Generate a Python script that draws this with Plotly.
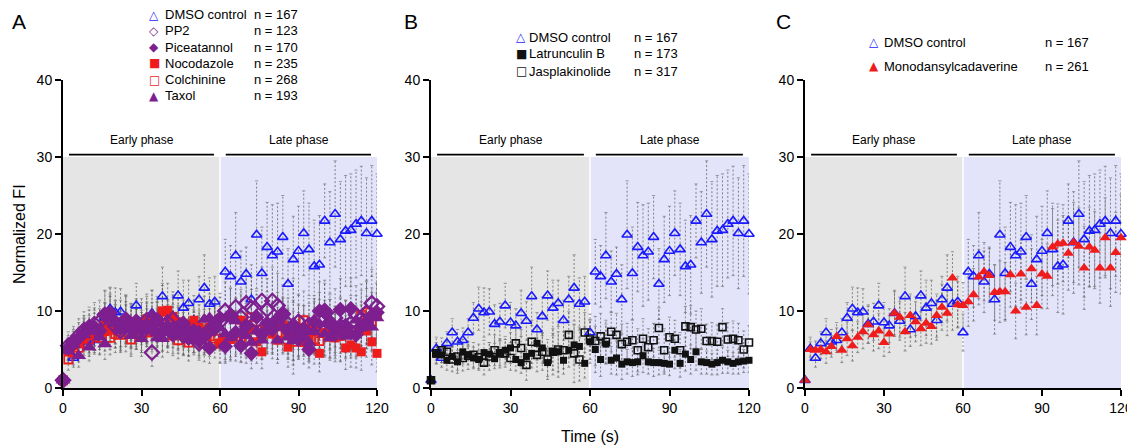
import plotly.graph_objects as go

# sampling grid (s)
time_s = list(range(0, 121, 2))

# DMSO control, shown in all three panels
dmso = [1.0, 5.1, 3.9, 5.8, 7.2, 6.0, 6.2, 7.2, 9.1, 10.3,
        9.8, 9.9, 8.3, 8.6, 10.7, 8.5, 8.1, 9.7, 8.7, 11.9,
        7.6, 9.3, 12.0, 10.4, 11.0, 8.8, 11.5, 13.0, 10.9, 11.2,
        7.2, 15.1, 14.5, 17.2, 13.8, 14.8, 11.5, 19.9, 14.9, 18.3,
        17.2, 17.7, 19.6, 13.5, 16.7, 17.8, 20.1, 18.0, 15.8, 16.0,
        21.7, 18.9, 22.6, 19.3, 20.4, 20.5, 21.3, 21.7, 20.1, 21.7,
        20.0]
dmso_err = [0, 1.5, 1.2, 1.5, 1.8, 1.6, 1.6, 1.8, 2.0, 2.8,
            3.2, 3.0, 2.5, 2.4, 2.9, 2.6, 2.2, 3.0, 2.5, 3.8,
            2.2, 2.5, 3.2, 3.6, 3.0, 2.6, 3.0, 4.3, 3.4, 3.3,
            2.4, 4.2, 4.0, 5.6, 4.0, 3.5, 4.5, 7.0, 6.0, 5.8,
            6.6, 6.3, 5.4, 4.6, 5.6, 5.8, 5.5, 6.0, 6.0, 6.4,
            4.8, 6.6, 6.9, 7.5, 7.2, 7.3, 7.0, 7.1, 7.2, 7.2,
            7.8]

# panel A
colch = [1.0, 3.7, 4.6, 5.2, 5.8, 6.3, 6.8, 6.5, 7.4, 6.5,
         7.0, 6.9, 7.2, 6.3, 7.6, 7.0, 7.2, 7.3, 7.5, 9.9,
         8.3, 6.8, 6.2, 7.1, 5.9, 7.4, 6.8, 5.8, 6.7, 6.4,
         5.8, 6.2, 6.5, 6.7, 6.4, 6.2, 9.2, 7.6, 7.0, 8.0,
         8.2, 7.1, 8.0, 6.9, 6.0, 7.3, 8.8, 7.4, 6.3, 6.1,
         7.8, 7.7, 7.2, 7.0, 7.6, 7.5, 7.3, 9.5, 9.8, 8.6,
         9.6]
colch_err = [0, 1.4, 1.6, 1.8, 2.0, 2.2, 2.4, 2.2, 2.6, 2.2,
             2.4, 2.3, 2.5, 2.2, 2.6, 2.4, 2.5, 2.6, 2.8, 3.4,
             3.0, 2.6, 2.4, 2.7, 2.4, 2.8, 2.6, 2.4, 2.6, 2.5,
             2.6, 2.8, 3.0, 3.2, 3.0, 3.0, 3.6, 3.4, 3.2, 3.6,
             3.8, 3.4, 3.6, 3.2, 3.0, 3.4, 3.8, 3.6, 3.2, 3.0,
             3.6, 3.8, 3.4, 3.6, 3.8, 3.6, 3.4, 4.0, 4.2, 3.8,
             4.0]
noco = [1.0, 4.8, 5.5, 5.9, 6.4, 7.0, 7.5, 7.8, 8.2, 7.6,
        8.0, 8.4, 8.9, 8.1, 7.7, 8.6, 9.0, 8.2, 8.5, 10.0,
        10.1, 9.3, 8.6, 8.0, 8.3, 8.8, 7.9, 7.4, 7.9, 8.2,
        5.7, 6.5, 6.3, 7.1, 8.8, 6.9, 7.6, 6.0, 4.7, 8.1,
        7.0, 6.2, 8.2, 5.3, 6.8, 7.5, 5.9, 6.4, 8.0, 4.5,
        7.2, 6.6, 6.5, 6.7, 5.2, 5.6, 5.2, 4.7, 7.4, 6.0,
        4.5]
noco_err = [0, 1.6, 1.8, 2.0, 2.2, 2.4, 2.6, 2.5, 2.8, 2.6,
            2.8, 3.0, 3.2, 2.8, 2.7, 3.0, 3.2, 2.9, 3.0, 3.6,
            3.5, 3.2, 3.0, 2.8, 3.0, 3.2, 2.9, 2.8, 3.0, 3.1,
            2.4, 2.8, 2.6, 3.0, 3.4, 3.0, 3.2, 2.8, 2.2, 3.4,
            3.2, 3.0, 3.6, 2.6, 3.2, 3.4, 2.8, 3.0, 3.6, 2.4,
            3.2, 3.0, 3.1, 3.2, 2.8, 2.9, 2.6, 2.4, 3.4, 3.0,
            2.4]
pp2 = [1.0, 5.5, 6.0, 6.8, 7.5, 7.9, 8.3, 8.6, 9.5, 8.9,
       8.0, 7.4, 8.3, 7.8, 8.4, 7.2, 8.8, 4.6, 8.2, 7.6,
       8.5, 8.9, 7.7, 6.8, 6.6, 7.3, 5.8, 6.9, 7.5, 7.8,
       8.6, 10.0, 9.4, 10.5, 9.2, 11.0, 10.4, 8.7, 11.3, 10.2,
       11.3, 10.7, 9.6, 8.3, 8.0, 8.6, 7.5, 8.2, 7.9, 8.8,
       10.0, 8.5, 9.1, 7.7, 8.0, 8.4, 9.5, 9.0, 9.8, 11.0,
       10.6]
pp2_err = [0, 1.8, 2.0, 2.2, 2.4, 2.6, 2.8, 2.8, 3.2, 3.0,
           2.8, 2.6, 2.9, 2.7, 3.0, 2.6, 3.1, 1.8, 2.9, 2.8,
           3.0, 3.2, 2.8, 2.5, 2.4, 2.7, 2.2, 2.6, 2.8, 2.9,
           3.2, 3.8, 3.6, 4.0, 3.6, 4.2, 4.0, 3.4, 4.4, 4.0,
           4.4, 4.2, 3.8, 3.4, 6.2, 3.6, 3.2, 3.4, 3.3, 3.6,
           4.0, 3.6, 3.8, 3.2, 3.4, 3.6, 3.8, 3.7, 4.0, 4.4,
           4.2]
pice = [1.0, 5.2, 5.8, 6.5, 7.2, 7.7, 7.9, 7.4, 9.6, 9.8,
        8.6, 7.8, 9.0, 8.1, 8.7, 7.5, 8.2, 7.6, 8.9, 7.3,
        8.0, 6.9, 7.9, 8.4, 6.5, 7.2, 6.1, 6.7, 5.2, 7.9,
        9.1, 5.4, 9.5, 7.2, 5.5, 8.0, 4.5, 9.2, 7.0, 8.4,
        7.6, 9.0, 9.6, 7.4, 8.2, 6.3, 7.7, 5.0, 8.6, 10.0,
        9.8, 8.3, 7.0, 10.2, 8.1, 10.3, 6.9, 8.0, 8.5, 9.4,
        9.8]
pice_err = [0, 1.6, 1.8, 2.0, 2.2, 2.4, 2.5, 2.4, 3.0, 3.2,
            2.8, 2.6, 3.0, 2.8, 2.9, 2.6, 2.8, 2.6, 3.0, 2.5,
            2.8, 2.4, 2.8, 3.0, 2.4, 2.6, 2.2, 2.4, 2.0, 2.8,
            3.2, 2.2, 3.4, 2.8, 2.2, 3.0, 2.0, 3.4, 2.8, 3.2,
            3.0, 3.4, 3.6, 3.0, 3.2, 2.6, 3.0, 2.4, 3.4, 3.8,
            3.8, 3.2, 2.8, 4.0, 3.2, 4.0, 2.8, 3.2, 3.4, 3.6,
            3.8]
taxol = [1.0, 4.8, 5.6, 4.2, 6.9, 5.3, 7.3, 6.6, 5.7, 9.2,
         8.5, 7.4, 8.9, 6.8, 7.8, 6.4, 8.3, 9.5, 6.5, 6.4,
         7.2, 8.0, 7.1, 6.7, 7.6, 6.8, 7.4, 8.9, 9.1, 8.6,
         7.8, 7.0, 6.5, 8.7, 7.1, 6.8, 5.9, 7.4, 6.2, 7.3,
         8.1, 6.2, 7.9, 6.6, 6.1, 7.0, 6.8, 5.9, 7.3, 8.3,
         7.0, 6.5, 7.6, 8.4, 6.7, 7.0, 8.8, 7.8, 8.2, 7.9,
         9.1]
taxol_err = [0, 1.6, 1.8, 1.5, 2.2, 1.8, 2.4, 2.2, 2.0, 3.0,
             2.8, 2.5, 3.0, 2.4, 2.7, 2.3, 2.9, 3.2, 2.4, 2.4,
             2.6, 2.8, 2.6, 2.5, 2.7, 2.5, 2.6, 3.0, 3.1, 3.0,
             2.8, 2.6, 2.5, 3.0, 2.7, 2.6, 2.4, 2.8, 2.5, 2.8,
             3.0, 2.5, 3.0, 2.7, 2.5, 2.8, 2.7, 2.4, 2.9, 3.2,
             2.8, 2.6, 3.0, 3.2, 2.7, 2.8, 3.2, 3.0, 3.1, 3.0,
             3.3]

# panel B
latb = [1.0, 4.4, 4.3, 3.6, 4.1, 3.4, 4.7, 4.3, 3.9, 3.7,
        4.6, 4.4, 3.8, 4.5, 4.9, 5.2, 3.7, 3.3, 4.1, 4.5,
        5.8, 5.2, 3.3, 4.7, 4.7, 3.6, 4.9, 5.6, 5.4, 3.2,
        6.0, 5.0, 3.7, 5.7, 3.6, 3.9, 3.1, 3.4, 3.3, 3.4,
        4.2, 3.4, 3.3, 3.3, 3.2, 3.1, 4.9, 3.2, 4.4, 3.7,
        4.7, 3.4, 3.3, 3.1, 3.3, 3.6, 3.4, 3.2, 3.4, 3.5,
        3.6]
latb_err = [0, 1.2, 1.0, 1.3, 1.4, 1.5, 1.6, 1.3, 1.4, 1.2,
            1.6, 1.5, 1.3, 1.6, 1.8, 2.0, 1.5, 1.4, 1.6, 1.9,
            2.2, 2.0, 1.8, 2.4, 2.6, 1.8, 2.2, 2.6, 2.5, 1.9,
            2.8, 3.0, 2.2, 2.6, 1.8, 2.2, 2.0, 1.6, 1.8, 1.7,
            2.2, 1.6, 1.8, 1.6, 1.4, 1.5, 2.4, 1.8, 2.2, 1.9,
            2.4, 1.6, 1.5, 1.4, 1.6, 1.7, 1.5, 1.4, 1.6, 1.5,
            1.6]
jasp = [1.0, 4.5, 4.9, 4.7, 3.7, 4.1, 3.9, 4.2, 4.3, 4.0,
        3.3, 4.1, 4.9, 4.5, 4.5, 3.9, 5.8, 5.2, 3.0, 6.0,
        4.3, 4.7, 3.7, 4.7, 5.0, 4.9, 6.9, 4.5, 3.7, 7.2,
        6.3, 6.1, 6.7, 6.0, 7.3, 6.9, 5.7, 6.0, 6.2, 4.9,
        6.4, 5.3, 6.2, 7.8, 4.9, 6.6, 6.4, 4.9, 8.0, 7.9,
        7.6, 7.7, 6.1, 6.1, 6.0, 7.9, 6.3, 6.4, 6.2, 5.0,
        5.9]
jasp_err = [0, 1.4, 1.6, 1.5, 1.6, 1.8, 1.7, 1.8, 1.6, 1.7,
            1.6, 1.8, 2.0, 1.9, 1.8, 1.6, 2.2, 2.4, 2.0, 2.8,
            2.2, 2.4, 2.6, 3.0, 3.6, 2.4, 3.0, 3.8, 2.8, 2.6,
            2.6, 3.2, 3.0, 2.8, 2.6, 2.8, 2.6, 2.4, 2.6, 2.8,
            2.6, 2.4, 2.2, 2.6, 2.8, 2.6, 2.4, 2.3, 2.6, 2.8,
            2.4, 2.6, 2.2, 2.4, 2.2, 2.4, 2.2, 2.3, 2.2, 2.4,
            2.2]

# panel C
mdc = [1.0, 5.0, 4.9, 5.0, 4.7, 5.4, 6.7, 4.9, 6.4, 5.5,
       6.6, 7.3, 8.2, 6.9, 7.4, 5.9, 7.0, 9.7, 9.2, 7.3,
       9.4, 8.6, 7.7, 8.4, 8.0, 9.4, 10.5, 9.7, 14.3, 10.8,
       10.7, 11.2, 12.1, 14.4, 15.1, 14.6, 12.4, 12.5, 12.5, 14.7,
       10.0, 14.8, 10.5, 15.5, 10.7, 14.8, 14.5, 18.3, 18.7, 18.8,
       17.5, 18.9, 18.4, 15.6, 18.3, 17.9, 15.6, 19.5, 15.6, 17.6,
       19.5]
mdc_err = [0, 1.0, 1.2, 1.2, 1.5, 1.4, 1.8, 1.6, 2.2, 2.0,
           2.0, 2.2, 2.4, 2.1, 2.3, 1.8, 2.4, 2.8, 2.6, 2.5,
           2.8, 2.6, 2.2, 2.6, 2.3, 2.8, 3.0, 2.9, 3.4, 3.0,
           3.0, 3.2, 3.4, 3.6, 3.8, 3.5, 3.6, 4.0, 3.8, 4.2,
           3.6, 4.4, 3.6, 4.4, 3.8, 4.5, 4.2, 5.0, 5.2, 5.0,
           4.8, 5.2, 5.0, 5.4, 5.2, 5.0, 4.6, 5.2, 5.0, 5.2,
           5.6]

BLUE = "#1a1aff"
RED = "#ee1c1c"
PURPLE = "#7d1f8e"
BLACK = "#111111"

# the page body adds an 8px margin, so the figure is a bit smaller than the window
W, H = 1135, 448
OFF = 8
FW, FH = W - OFF, H - OFF
FONT = "Liberation Sans, Arial, sans-serif"


def px(x):
    return (x - OFF) / FW


def py(y):
    return 1 - (y - OFF) / FH


def err_bars(t, y, e):
    xs, ys = [], []
    for ti, yi, ei in zip(t, y, e):
        if ei <= 0:
            continue
        xs += [ti, ti, None]
        ys += [yi - ei, yi + ei, None]
    return xs, ys


def err_caps(t, y, e):
    xs, ys = [], []
    for ti, yi, ei in zip(t, y, e):
        if ei <= 0:
            continue
        for yy in (yi - ei, yi + ei):
            xs += [ti - 0.6, ti + 0.6, None]
            ys += [yy, yy, None]
    return xs, ys


fig = go.Figure()

panels = [
    ("x", "y", [
        (dmso, dmso_err, "triangle-up-open", 9, BLUE, 1.6),
        (colch, colch_err, "square-open", 8, RED, 1.8),
        (noco, noco_err, "square", 9, RED, 0),
        (pp2, pp2_err, "diamond-open", 11, PURPLE, 2.2),
        (pice, pice_err, "diamond", 12, PURPLE, 0),
        (taxol, taxol_err, "triangle-up", 13, PURPLE, 0),
    ]),
    ("x2", "y2", [
        (dmso, dmso_err, "triangle-up-open", 9, BLUE, 1.6),
        (jasp, jasp_err, "square-open", 7, BLACK, 1.6),
        (latb, latb_err, "square", 7, BLACK, 0),
    ]),
    ("x3", "y3", [
        (dmso, dmso_err, "triangle-up-open", 9, BLUE, 1.6),
        (mdc, mdc_err, "triangle-up", 10, RED, 0),
    ]),
]

for xa, ya, series in panels:
    # error bars first so markers sit on top
    for vals, errs, sym, size, col, lw in series:
        ex, ey = err_bars(time_s, vals, errs)
        fig.add_trace(go.Scatter(x=ex, y=ey, mode="lines", xaxis=xa, yaxis=ya,
                                 line=dict(color="#555555", width=0.7, dash="2px,2px"),
                                 hoverinfo="skip", showlegend=False))
        cx, cy = err_caps(time_s, vals, errs)
        fig.add_trace(go.Scatter(x=cx, y=cy, mode="lines", xaxis=xa, yaxis=ya,
                                 line=dict(color="#777777", width=0.7),
                                 hoverinfo="skip", showlegend=False))
    for vals, errs, sym, size, col, lw in series:
        fig.add_trace(go.Scatter(x=time_s, y=vals, mode="markers", xaxis=xa, yaxis=ya,
                                 marker=dict(symbol=sym, size=size, color=col,
                                             line=dict(color=col, width=lw)),
                                 cliponaxis=False, showlegend=False))

# phase shading and bars
shapes = []
annotations = []
for xa, ya in [("x", "y"), ("x2", "y2"), ("x3", "y3")]:
    shapes.append(dict(type="rect", xref=xa, yref=ya, x0=0, x1=60, y0=0, y1=30,
                       fillcolor="#e5e5e5", line=dict(width=0), layer="below"))
    shapes.append(dict(type="rect", xref=xa, yref=ya, x0=60, x1=120, y0=0, y1=30,
                       fillcolor="#e3e3fa", line=dict(width=0), layer="below"))
    shapes.append(dict(type="line", xref=xa, yref=ya, x0=60, x1=60, y0=0, y1=30,
                       line=dict(color="white", width=1.5), layer="below"))
    shapes.append(dict(type="line", xref=xa, yref=ya, x0=2.3, x1=57.7, y0=30.3, y1=30.3,
                       line=dict(color="black", width=1.8)))
    shapes.append(dict(type="line", xref=xa, yref=ya, x0=62.2, x1=117.7, y0=30.3, y1=30.3,
                       line=dict(color="black", width=1.8)))
    annotations.append(dict(xref=xa, yref=ya, x=30, y=32.2, text="Early phase",
                            showarrow=False, font=dict(size=12, color="black", family=FONT)))
    annotations.append(dict(xref=xa, yref=ya, x=90, y=32.2, text="Late phase",
                            showarrow=False, font=dict(size=12, color="black", family=FONT)))

# panel letters
for letter, lx in [("A", 10), ("B", 402), ("C", 774)]:
    annotations.append(dict(xref="paper", yref="paper", x=px(lx), y=1, text=letter,
                            xanchor="left", yanchor="top", showarrow=False,
                            font=dict(size=21, color="black", family=FONT)))

# legends
legend_rows = [
    # (glyph x, text x, n x, rows)
    (154, 163, 252, [
        ("\u25b3", BLUE, "DMSO control", "n = 167", 15),
        ("\u25c7", PURPLE, "PP2", "n = 123", 31),
        ("\u25c6", PURPLE, "Piceatannol", "n = 170", 47.5),
        ("\u25a0", RED, "Nocodazole", "n = 235", 63.5),
        ("\u25a1", RED, "Colchinine", "n = 268", 80),
        ("\u25b2", PURPLE, "Taxol", "n = 193", 95.5),
    ]),
    (521, 527, 632, [
        ("\u25b3", BLUE, "DMSO control", "n = 167", 37),
        ("\u25a0", BLACK, "Latrunculin B", "n = 173", 54),
        ("\u25a1", BLACK, "Jasplakinolide", "n = 317", 71),
    ]),
    (874, 882, 1043, [
        ("\u25b3", BLUE, "DMSO control", "n = 167", 42),
        ("\u25b2", RED, "Monodansylcadaverine", "n = 261", 66.5),
    ]),
]
for gx, tx, nx, rows in legend_rows:
    for glyph, col, name, ntext, ry in rows:
        annotations.append(dict(xref="paper", yref="paper", x=px(gx), y=py(ry), text=glyph,
                                xanchor="center", yanchor="middle", showarrow=False,
                                font=dict(size=12, color=col, family="DejaVu Sans")))
        annotations.append(dict(xref="paper", yref="paper", x=px(tx), y=py(ry), text=name,
                                xanchor="left", yanchor="middle", showarrow=False,
                                font=dict(size=13, color="black", family=FONT)))
        annotations.append(dict(xref="paper", yref="paper", x=px(nx), y=py(ry), text=ntext,
                                xanchor="left", yanchor="middle", showarrow=False,
                                font=dict(size=13, color="black", family=FONT)))

# axis titles
annotations.append(dict(xref="paper", yref="paper", x=px(19), y=py(234), text="Normalized FI",
                        textangle=-90, showarrow=False, xanchor="center", yanchor="middle",
                        font=dict(size=16, color="black", family=FONT)))
annotations.append(dict(xref="paper", yref="paper", x=px(590), y=py(436), text="Time (s)",
                        showarrow=False, xanchor="center", yanchor="middle",
                        font=dict(size=16, color="black", family=FONT)))

ydom = [py(388), py(80)]
xdoms = [[px(63), px(377)], [px(431), px(749)], [px(805), px(1121)]]

axis_style = dict(showline=True, linecolor="black", linewidth=2, ticks="outside",
                  ticklen=6, tickwidth=2, tickcolor="black", showgrid=False,
                  zeroline=False, tickfont=dict(size=14, color="black", family=FONT),
                  fixedrange=True, automargin=False)

layout = dict(
    width=FW, height=FH,
    margin=dict(l=0, r=0, t=0, b=0, autoexpand=False),
    paper_bgcolor="white", plot_bgcolor="white",
    showlegend=False,
    shapes=shapes, annotations=annotations,
)
for i, xd in enumerate(xdoms):
    sfx = "" if i == 0 else str(i + 1)
    layout["xaxis" + sfx] = dict(domain=xd, range=[0, 120], tickvals=[0, 30, 60, 90, 120],
                                 anchor="y" + sfx, **axis_style)
    layout["yaxis" + sfx] = dict(domain=ydom, range=[0, 40], tickvals=[0, 10, 20, 30, 40],
                                 anchor="x" + sfx, **axis_style)

fig.update_layout(**layout)
fig.write_html("out.html")
